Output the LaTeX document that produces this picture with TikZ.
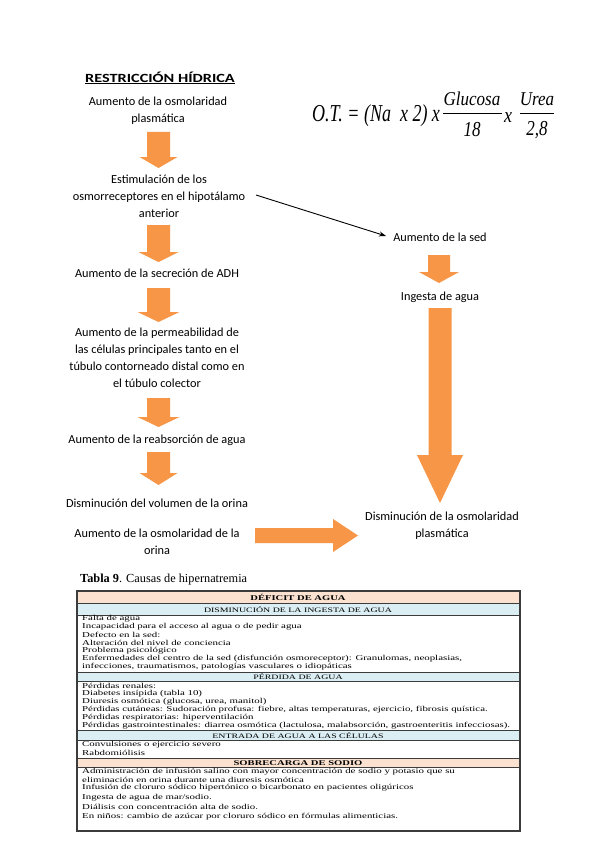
\documentclass[tikz,border=0pt]{standalone}
\usepackage{fontspec}
\usepackage{graphicx}
\setmainfont{Carlito}
\newfontfamily\titlefont[FakeStretch=1.3]{Carlito}
\newfontfamily\tabfont[FakeStretch=1.45]{Liberation Serif}
\newfontfamily\captfont{Liberation Serif}
\newfontfamily\formfont{Liberation Serif}
\usetikzlibrary{arrows.meta}
\definecolor{arrorange}{RGB}{247,150,70}
\definecolor{peach}{RGB}{251,226,208}
\definecolor{paleblue}{RGB}{219,238,244}
\definecolor{tabline}{RGB}{60,60,60}
\newcommand\blkdown[6]{% x, top, base, tip, shaft half, head half
  \fill[arrorange] (#1-#5,#2) -- (#1+#5,#2) -- (#1+#5,#3) -- (#1+#6,#3) -- (#1,#4) -- (#1-#6,#3) -- (#1-#5,#3) -- cycle;}
\begin{document}
\begin{tikzpicture}[x=1pt,y=-1pt,
  flow/.style={font=\fontsize{12.3}{17}\selectfont, align=center, inner sep=0pt},
  tbl/.style={font=\tabfont\fontsize{7.5}{8}\selectfont, anchor=west, inner sep=0pt},
  tblhead/.style={font=\tabfont\fontsize{6.8}{8}\selectfont, anchor=center, inner sep=0pt},
  tblbold/.style={font=\tabfont\bfseries\fontsize{7.3}{8}\selectfont, anchor=center, inner sep=0pt},
  form/.style={font=\formfont\itshape\fontsize{18}{18}\selectfont, inner sep=0pt},
  formsmall/.style={font=\formfont\itshape\fontsize{17}{17}\selectfont, inner sep=0pt}]
\useasboundingbox[fill=white] (0,0) rectangle (599,848);

% ---- title
\node[inner sep=0pt, font=\titlefont\bfseries\fontsize{12.5}{14}\selectfont] (title) at (160,78) {\underline{RESTRICCIÓN HÍDRICA}};

% ---- left column
\node[flow] (n1) at (158,111) {Aumento de la osmolaridad\\plasmática};
\node[flow] (n2) at (159,196) {Estimulación de los\\osmorreceptores en el hipotálamo\\anterior};
\node[flow] (n3) at (157,273) {Aumento de la secreción de ADH};
\node[flow] (n4) at (157,358) {Aumento de la permeabilidad de\\las células principales tanto en el\\túbulo contorneado distal como en\\el túbulo colector};
\node[flow] (n5) at (157,440) {Aumento de la reabsorción de agua};
\node[flow] (n6) at (157,503) {Disminución del volumen de la orina};
\node[flow] (n7) at (157,542) {Aumento de la osmolaridad de la\\orina};

% ---- right column
\node[flow] (sed) at (440,237) {Aumento de la sed};
\node[flow] (ing) at (440,297) {Ingesta de agua};
\node[flow] (dis) at (442,526) {Disminución de la osmolaridad\\plasmática};

% ---- block arrows
\blkdown{158.5}{132}{157}{168}{11.5}{19}
\blkdown{158.5}{225}{252}{262}{11.5}{20}
\blkdown{158.5}{288}{312}{322}{11.5}{21}
\blkdown{158.5}{398}{417}{427}{11.5}{21}
\blkdown{158.5}{452}{473}{485}{11.5}{19}
\blkdown{439}{255}{272}{283}{11}{20}
\blkdown{440}{308}{455}{503}{11.5}{23}
\fill[arrorange] (255,528) -- (333,528) -- (333,519) -- (358,535.5) -- (333,552) -- (333,543) -- (255,543) -- cycle;

% ---- thin arrow
\coordinate (ls) at (256,195);
\coordinate (le) at (386,236);
\draw[line width=0.9pt, -{Stealth[length=7pt,width=5pt]}] (ls) -- (le);

% ---- formula
\node[form, anchor=west] (ot) at (312,116) {\scalebox{1}[1.35]{O.T. = (Na\ \ x 2) x}};
\node[formsmall] (glu) at (472,99) {\scalebox{1}[1.15]{Glucosa}};
\node[formsmall] (d18) at (472,130) {\scalebox{1}[1.25]{18}};
\node[form] (x2) at (508,118) {\scalebox{1}[1.2]{x}};
\node[formsmall] (ure) at (537,99) {\scalebox{1}[1.15]{Urea}};
\node[formsmall] (d28) at (537,130) {\scalebox{1}[1.25]{2,8}};
\coordinate (f1a) at (443,113); \coordinate (f1b) at (502,113);
\coordinate (f2a) at (520,113); \coordinate (f2b) at (554,113);
\draw[line width=0.8pt] (f1a) -- (f1b);
\draw[line width=0.8pt] (f2a) -- (f2b);

% ---- table
\node[anchor=west, inner sep=0pt, font=\captfont\fontsize{12.3}{12}\selectfont] (tcap) at (80,580) {\textbf{Tabla 9}. Causas de hipernatremia};
\fill[peach] (77,591) rectangle (520,603);
\fill[paleblue] (77,603) rectangle (520,615);
\fill[paleblue] (77,672) rectangle (520,681);
\fill[paleblue] (77,730) rectangle (520,740);
\fill[peach] (77,758) rectangle (520,767);
\foreach \yy in {603,615,672,681,730,740,758,767}
  \draw[tabline, line width=0.5pt] (77,\yy) -- (520,\yy);
\draw[tabline, line width=1.5pt] (77,591) rectangle (520,831);

\node[tblbold] (h1) at (298,597.5) {DÉFICIT DE AGUA};
\node[tblhead] (h2) at (298,609.5) {DISMINUCIÓN DE LA INGESTA DE AGUA};
\node[tbl] (r1) at (82,619) {Falta de agua};
\node[tbl] (r2) at (82,627) {Incapacidad para el acceso al agua o de pedir agua};
\node[tbl] (r3) at (82,635) {Defecto en la sed:};
\node[tbl] (r4) at (82,643) {Alteración del nivel de conciencia};
\node[tbl] (r5) at (82,651) {Problema psicológico};
\node[tbl] (r6) at (82,659) {Enfermedades del centro de la sed (disfunción osmoreceptor): Granulomas, neoplasias,};
\node[tbl] (r7) at (82,667) {infecciones, traumatismos, patologías vasculares o idiopáticas};
\node[tblhead] (h3) at (298,677) {PÉRDIDA DE AGUA};
\node[tbl] (p1) at (82,685.5) {Pérdidas renales:};
\node[tbl] (p2) at (82,693.5) {Diabetes insípida (tabla 10)};
\node[tbl] (p3) at (82,702) {Diuresis osmótica (glucosa, urea, manitol)};
\node[tbl] (p4) at (82,710) {Pérdidas cutáneas: Sudoración profusa: fiebre, altas temperaturas, ejercicio, fibrosis quística.};
\node[tbl] (p5) at (82,718) {Pérdidas respiratorias: hiperventilación};
\node[tbl] (p6) at (82,726) {Pérdidas gastrointestinales: diarrea osmótica (lactulosa, malabsorción, gastroenteritis infecciosas).};
\node[tblhead] (h4) at (298,735.5) {ENTRADA DE AGUA A LAS CÉLULAS};
\node[tbl] (e1) at (82,744.5) {Convulsiones o ejercicio severo};
\node[tbl] (e2) at (82,753) {Rabdomiólisis};
\node[tblbold] (h5) at (298,763) {SOBRECARGA DE SODIO};
\node[tbl] (s1) at (82,772) {Administración de infusión salino con mayor concentración de sodio y potasio que su};
\node[tbl] (s2) at (82,779.5) {eliminación en orina durante una diuresis osmótica};
\node[tbl] (s3) at (82,788) {Infusión de cloruro sódico hipertónico o bicarbonato en pacientes oligúricos};
\node[tbl] (s4) at (82,798) {Ingesta de agua de mar/sodio.};
\node[tbl] (s5) at (82,807) {Diálisis con concentración alta de sodio.};
\node[tbl] (s6) at (82,816.5) {En niños: cambio de azúcar por cloruro sódico en fórmulas alimenticias.};
\end{tikzpicture}
\end{document}
